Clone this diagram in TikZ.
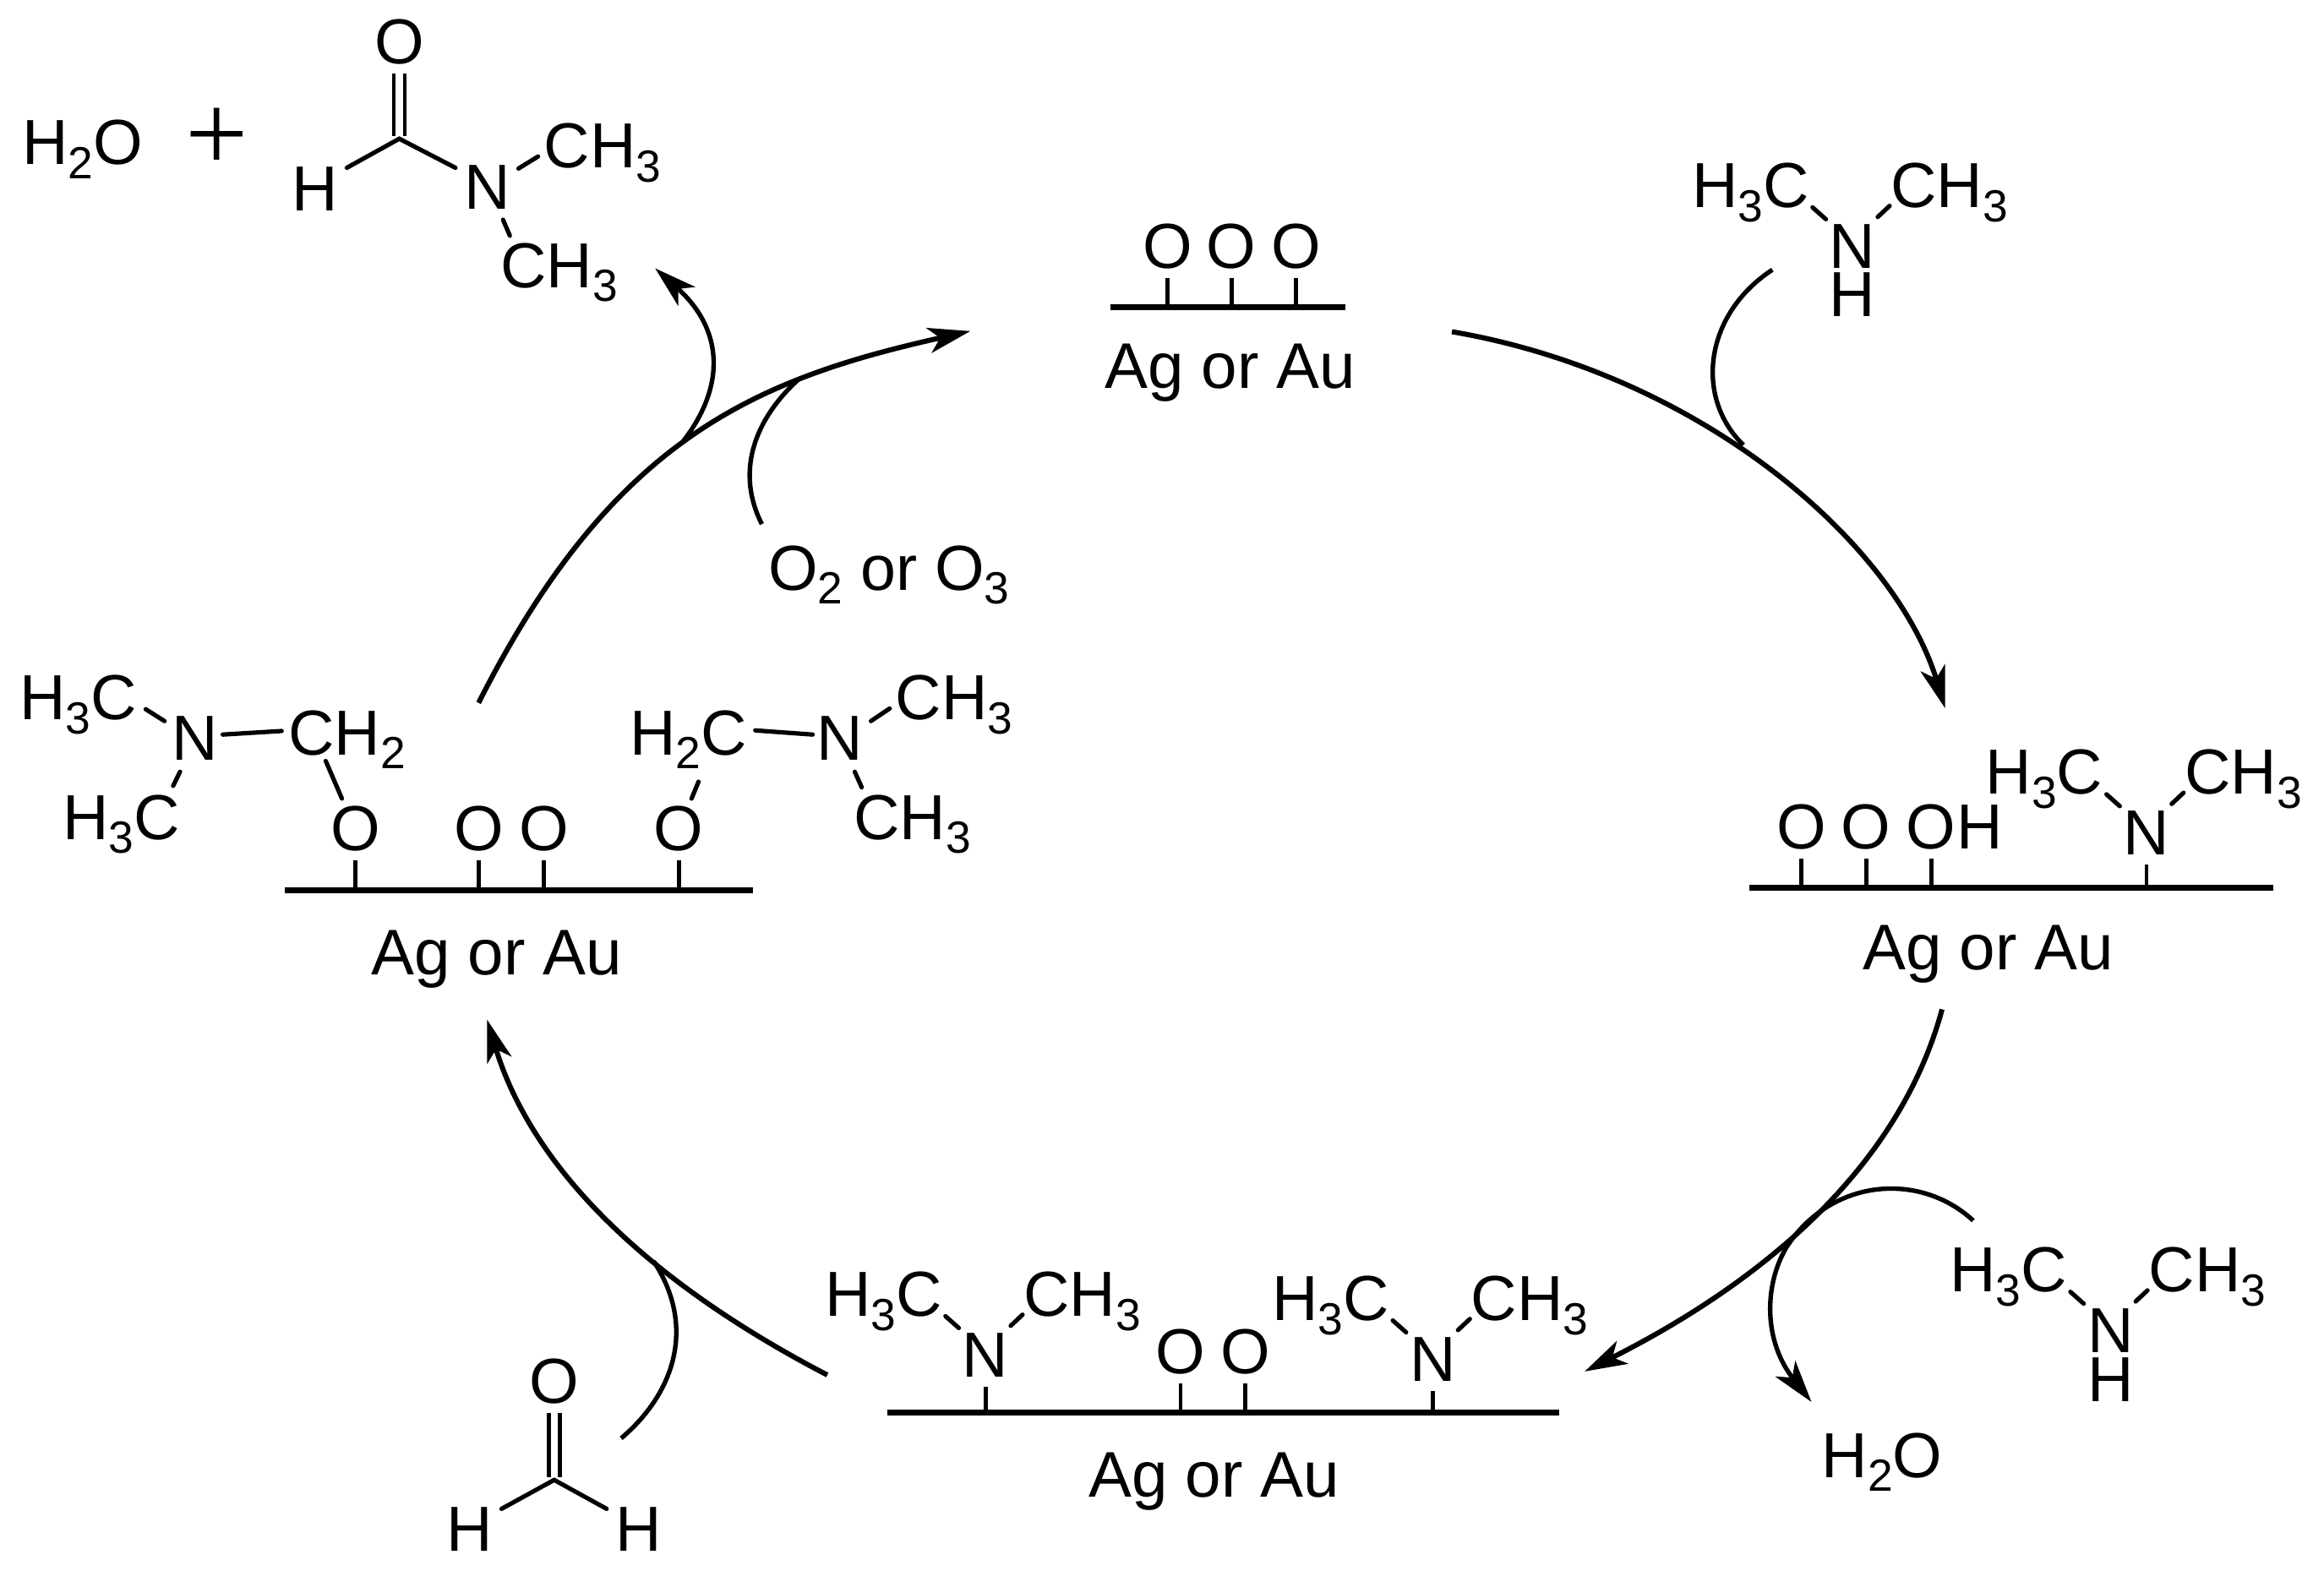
\documentclass[tikz,border=0pt]{standalone}
\usepackage{fontspec}
\setmainfont{Liberation Sans}
\newfontfamily\plusfont{Liberation Serif}
\usetikzlibrary{arrows.meta}
\newcommand{\subs}[1]{\raisebox{-5pt}{\fontsize{16}{16}\selectfont #1}}
\tikzset{
  atom/.style={inner sep=0pt,font=\fontsize{22.6}{22.6}\selectfont},
  metal/.style={inner sep=0pt,anchor=base,font=\fontsize{22.9}{22.9}\selectfont},
  bond/.style={line width=1.55pt,line cap=round},
  stem/.style={line width=1.45pt,shorten <=3.4pt},
  surface/.style={line width=2.1pt},
  cycle/.style={line width=1.8pt,-{Stealth[length=15pt,width=9pt,inset=4pt]}},
  cyclein/.style={line width=1.6pt}
}
\begin{document}
\begin{tikzpicture}[x=0.526pt,y=-0.526pt]
\useasboundingbox (0,0) rectangle (1568,1067);

% Metal surfaces
\coordinate (sa) at (749,207.4);
\coordinate (sae) at (908,207.4);
\coordinate (sb) at (1180,598.7);
\coordinate (sbe) at (1534,598.7);
\coordinate (sc) at (598.6,953.1);
\coordinate (sce) at (1051.8,953.1);
\coordinate (sd) at (192.4,600.9);
\coordinate (sde) at (508.2,600.9);
\draw [surface] (sa) -- (sae);
\draw [surface] (sb) -- (sbe);
\draw [surface] (sc) -- (sce);
\draw [surface] (sd) -- (sde);
\node [metal] (agt) at (830.1,262) {Ag or Au};
\node [metal] (agr) at (1341.5,654) {Ag or Au};
\node [metal] (agb) at (819.2,1010) {Ag or Au};
\node [metal] (agl) at (335.2,657.5) {Ag or Au};

% Surface oxygens
\foreach \id/\ox/\oy/\surf in {oa1/787.6/181/sa,oa2/830.9/181/sa,oa3/874.6/181/sa,
  ob1/1215.3/573/sb,ob2/1259/573/sb,ob3/1302.9/573/sb,
  oc1/796.5/927/sc,oc2/840.2/927/sc,
  od1/239.7/574/sd,od2/322.9/574/sd,od3/366.8/574/sd,od4/458/574/sd}{
  \node [atom,anchor=base] (\id) at (\ox,\oy) {O};
  \draw [stem] (\id.base) -- (\id.base |- \surf);
}
\node [atom,anchor=base west] (hob) at (ob3.base east) {H};

% Dimethylamine groups
\foreach \id/\nx/\ny in {nt/1249.9/180.9,nr/1448.2/576.9,nc/664.9/929,nd/966.7/931.9,nf/1423.9/912.6}{
  \node [atom,anchor=base] (\id) at (\nx,\ny) {N};
  \node [atom,anchor=base east] (hl\id) at (\nx-29,\ny-41) {H\subs{3}C};
  \node [atom,anchor=base west] (hr\id) at (\nx+25.5,\ny-41) {CH\subs{3}};
  \draw [bond] ([shift={(2,0)}]hl\id.base east) -- ([shift={(-18,-33)}]\id.base);
  \draw [bond] ([shift={(17,-34.5)}]\id.base) -- ([shift={(-0.5,-1)}]hr\id.base west);
}
\node [atom,anchor=base] (hnt) at (1249.9,213.6) {H};
\node [atom,anchor=base] (hnf) at (1423.9,945.9) {H};
\draw [stem] (nr.base) -- (nr.base |- sb);
\draw [stem] (nc.base) -- (nc.base |- sc);
\draw [stem] (nd.base) -- (nd.base |- sc);

% Left surface species
\node [atom,anchor=base] (nl) at (131.6,513.1) {N};
\node [atom,anchor=base east] (mla) at (92.8,485.6) {H\subs{3}C};
\node [atom,anchor=base east] (mlb) at (121.6,566.3) {H\subs{3}C};
\node [atom,anchor=base west] (chl) at (194.2,509.3) {CH\subs{2}};
\draw [bond] ([shift={(5.5,-7.1)}]mla.base east) -- ([shift={(-20.6,-26.6)}]nl.base);
\draw [bond] ([shift={(-10.1,7.6)}]nl.base) -- ([shift={(-4.8,-36.1)}]mlb.base east);
\draw [bond] ([shift={(18.7,-17.5)}]nl.base) -- ([shift={(-4.2,-16.1)}]chl.base west);
\draw [bond] ([shift={(25.6,4.2)}]chl.base west) -- ([shift={(-9,-35.2)}]od1.base);
\node [atom,anchor=base] (nm) at (566.5,513.1) {N};
\node [atom,anchor=base west] (chm) at (424.5,509.3) {H\subs{2}C};
\node [atom,anchor=base west] (mma) at (604,485.6) {CH\subs{3}};
\node [atom,anchor=base west] (mmb) at (575.6,566.3) {CH\subs{3}};
\draw [bond] ([shift={(85.1,-16.5)}]chm.base west) -- ([shift={(-18.2,-17.5)}]nm.base);
\draw [bond] ([shift={(21.1,-26.6)}]nm.base) -- ([shift={(-3.7,-7.6)}]mma.base west);
\draw [bond] ([shift={(10.2,7.6)}]nm.base) -- ([shift={(5.8,-35.1)}]mmb.base west);
\draw [bond] ([shift={(46.8,18.1)}]chm.base west) -- ([shift={(8.6,-35.2)}]od4.base);

% Formamide product
\node [atom,anchor=base west] (wat) at (14.7,111) {H\subs{2}O};
\node [inner sep=0pt,font=\plusfont\fontsize{39.5}{39.5}\selectfont] (plus) at (146.5,94) {+};
\node [atom,anchor=base] (ocho) at (269.4,43) {O};
\coordinate (cho) at (269.4,93.6);
\node [atom,anchor=base] (hcho) at (212.7,142) {H};
\node [atom,anchor=base] (ncho) at (328.9,141.2) {N};
\node [atom,anchor=base west] (mca) at (366.7,113.2) {CH\subs{3}};
\node [atom,anchor=base west] (mcb) at (337.4,193.9) {CH\subs{3}};
\draw [bond,line width=1.4pt,line cap=butt,double,double distance=2.54pt,shorten <=3.4pt,shorten >=1pt] (ocho.base) -- (cho);
\draw [bond] ([shift={(21.3,-28.8)}]hcho.base) -- (cho) -- ([shift={(-21.6,-28)}]ncho.base);
\draw [bond] ([shift={(20.9,-27.5)}]ncho.base) -- ([shift={(-3.7,-7.6)}]mca.base west);
\draw [bond] ([shift={(10.5,7.1)}]ncho.base) -- ([shift={(6.6,-34.9)}]mcb.base west);

% Formaldehyde
\node [atom,anchor=base] (ofa) at (373.9,947) {O};
\coordinate (cfa) at (373.9,998.5);
\node [atom,anchor=base] (hfa) at (316.6,1046.5) {H};
\node [atom,anchor=base] (hfb) at (431.1,1046.5) {H};
\draw [bond,line width=1.4pt,line cap=butt,double,double distance=2.54pt,shorten <=3.4pt,shorten >=1pt] (ofa.base) -- (cfa);
\draw [bond] ([shift={(21.8,-28.5)}]hfa.base) -- (cfa) -- ([shift={(-21.8,-28.5)}]hfb.base);

% Other labels
\node [atom,anchor=base west] (oxy) at (518,398) {O\subs{2} or O\subs{3}};
\node [atom,anchor=base west] (watb) at (1228.7,996.7) {H\subs{2}O};

% Cycle arrows
\coordinate (cta) at (979.6,223.8);
\coordinate (ctb) at (1312.4,477.9);
\coordinate (cra) at (1310.3,681);
\coordinate (crb) at (1069.2,925.3);
\coordinate (cba) at (558.2,927.7);
\coordinate (cbb) at (328.6,687.9);
\coordinate (cla) at (322.9,474.2);
\coordinate (clb) at (654.7,223.4);
\draw [cycle] (cta) .. controls (1150,253) and (1279,368) .. (ctb);
\draw [cycle] (cra) .. controls (1276.5,806) and (1159,880) .. (crb);
\draw [cycle] (cba) .. controls (432,862) and (358,785) .. (cbb);
\draw [cycle] (cla) .. controls (413,296) and (509,256) .. (clb);

% Curved side arrows
\coordinate (jta) at (1195.8,182);
\coordinate (jtb) at (1176.3,300.3);
\draw [cyclein] (jta) .. controls (1150,212) and (1143,268) .. (jtb);
\coordinate (jra) at (1331.3,823.5);
\coordinate (jrb) at (1205,842);
\coordinate (jrc) at (1222.2,945.9);
\draw [cycle,line width=1.6pt] (jra) .. controls (1295,790) and (1235,795) .. (jrb) .. controls (1190,868) and (1190,905) .. (jrc);
\coordinate (jba) at (419.1,970.4);
\coordinate (jbb) at (441,851);
\draw [cyclein] (jba) .. controls (455,940) and (470,895) .. (jbb);
\coordinate (jla) at (514,353.6);
\coordinate (jlb) at (539,255.7);
\draw [cyclein] (jla) .. controls (497,320) and (507,285) .. (jlb);
\coordinate (joa) at (461,297.6);
\coordinate (job) at (442,181);
\draw [cycle,line width=1.6pt] (joa) .. controls (490,260) and (488,222) .. (job);
\end{tikzpicture}
\end{document}
